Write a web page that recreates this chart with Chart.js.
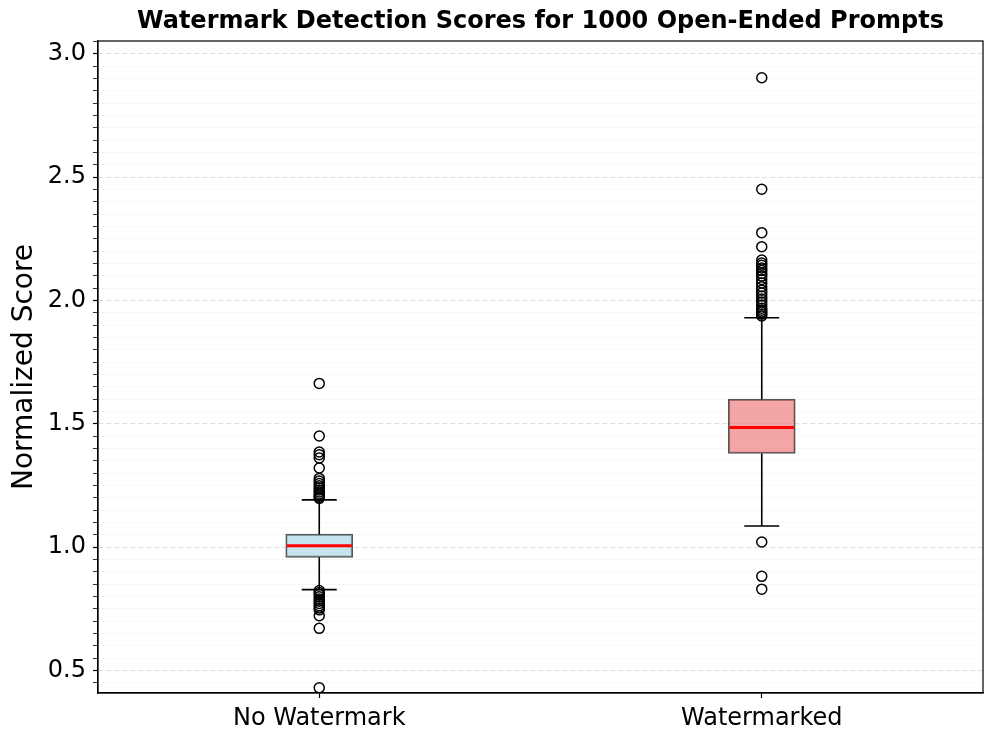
<!DOCTYPE html>
<html>
<head>
<meta charset="utf-8">
<script src="https://cdn.jsdelivr.net/npm/chart.js@4/dist/chart.umd.min.js"></script>
<style>
  html, body { margin: 0; padding: 0; background: #fff; }
  #wrap { width: 996px; height: 742px; }
</style>
</head>
<body>
<div id="wrap"><canvas id="chart"></canvas></div>
<script>
'use strict';

/* Data */
const categories = ['No Watermark', 'Watermarked'];
const q1 = [0.959, 1.380];
const q3 = [1.053, 1.600];
const medians = [1.006, 1.485];
const whiskerLow = [0.828, 1.086];
const whiskerHigh = [1.192, 1.930];

const noWatermarkOutliers = [
  1.664, 1.451, 1.386, 1.375, 1.362, 1.321, 1.279, 1.268, 1.258, 1.249,
  1.241, 1.232, 1.224, 1.216, 1.209, 1.203, 1.198,
  0.824, 0.816, 0.808, 0.799, 0.790, 0.781, 0.772, 0.763, 0.754, 0.746,
  0.722, 0.671, 0.430
];
const watermarkedOutliers = [
  2.903, 2.451, 2.275, 2.218, 2.164, 2.152, 2.143, 2.132, 2.122, 2.110,
  2.099, 2.085, 2.071, 2.056, 2.042, 2.030, 2.018, 2.006, 1.994, 1.982,
  1.969, 1.961, 1.953, 1.945, 1.937,
  1.021, 0.882, 0.830
];

const Y_MIN = 0.409;
const Y_MAX = 3.052;

/* Styling */
const FONT = "'DejaVu Sans', sans-serif";
const boxFills = ['rgba(173,216,230,0.7)', 'rgba(240,128,128,0.7)'];
const BOX_WIDTH = 67;
const CAP_HALF = 17.5;

function isMajor(v) {
  return Math.abs(v * 2 - Math.round(v * 2)) < 1e-6;
}

/* Whiskers, caps and medians drawn with the chart's scales */
const boxExtras = {
  id: 'boxExtras',
  afterDatasetDraw(chart, args) {
    if (args.meta.type !== 'bar') return;
    const { ctx, scales: { x, y } } = chart;
    ctx.save();
    categories.forEach((cat, i) => {
      const cx = x.getPixelForValue(i);
      ctx.strokeStyle = '#000';
      ctx.lineWidth = 1.6;
      ctx.beginPath();
      ctx.moveTo(cx, y.getPixelForValue(q3[i]));
      ctx.lineTo(cx, y.getPixelForValue(whiskerHigh[i]));
      ctx.moveTo(cx, y.getPixelForValue(q1[i]));
      ctx.lineTo(cx, y.getPixelForValue(whiskerLow[i]));
      ctx.moveTo(cx - CAP_HALF, y.getPixelForValue(whiskerHigh[i]));
      ctx.lineTo(cx + CAP_HALF, y.getPixelForValue(whiskerHigh[i]));
      ctx.moveTo(cx - CAP_HALF, y.getPixelForValue(whiskerLow[i]));
      ctx.lineTo(cx + CAP_HALF, y.getPixelForValue(whiskerLow[i]));
      ctx.stroke();

      ctx.strokeStyle = '#ff0000';
      ctx.lineWidth = 3;
      ctx.beginPath();
      ctx.moveTo(cx - BOX_WIDTH / 2 + 1, y.getPixelForValue(medians[i]));
      ctx.lineTo(cx + BOX_WIDTH / 2 - 1, y.getPixelForValue(medians[i]));
      ctx.stroke();
    });
    ctx.restore();
  },
  afterDraw(chart) {
    // frame round the plot area
    const { ctx, chartArea: a } = chart;
    ctx.save();
    ctx.strokeStyle = '#000';
    ctx.lineWidth = 1.2;
    ctx.strokeRect(a.left, a.top, a.right - a.left, a.bottom - a.top);
    ctx.restore();
  }
};

const outlierPoints = [
  ...noWatermarkOutliers.map(v => ({ x: categories[0], y: v })),
  ...watermarkedOutliers.map(v => ({ x: categories[1], y: v }))
];

new Chart(document.getElementById('chart'), {
  type: 'bar',
  data: {
    labels: categories,
    datasets: [
      {
        type: 'bar',
        order: 2,
        data: categories.map((c, i) => [q1[i], q3[i]]),
        backgroundColor: boxFills,
        borderColor: '#555555',
        borderWidth: 1.5,
        borderSkipped: false,
        barThickness: BOX_WIDTH
      },
      {
        type: 'line',
        order: 1,
        data: outlierPoints,
        showLine: false,
        pointStyle: 'circle',
        pointRadius: 5,
        pointBorderWidth: 1.5,
        pointBorderColor: '#000',
        pointBackgroundColor: 'rgba(0,0,0,0)'
      }
    ]
  },
  options: {
    responsive: true,
    maintainAspectRatio: false,
    animation: false,
    events: [],
    layout: { padding: { left: 0, right: 13, top: 0, bottom: 0 } },
    plugins: {
      legend: { display: false },
      tooltip: { enabled: false },
      title: {
        display: true,
        fullSize: false,
        text: 'Watermark Detection Scores for 1000 Open-Ended Prompts',
        color: '#000',
        font: { family: FONT, size: 24, weight: 'bold', lineHeight: 1.2 },
        padding: { top: 7, bottom: 5.2 }
      }
    },
    scales: {
      x: {
        type: 'category',
        offset: true,
        afterFit(scale) { scale.height = 49; },
        grid: {
          offset: false,
          drawOnChartArea: false,
          drawTicks: true,
          tickLength: 5,
          tickColor: '#000',
          tickWidth: 1.2
        },
        border: { display: true, color: '#000', width: 1.2 },
        ticks: {
          color: '#000',
          padding: 6,
          font: { family: FONT, size: 24 }
        }
      },
      y: {
        type: 'linear',
        min: Y_MIN,
        max: Y_MAX,
        afterFit(scale) { scale.width = 98; },
        title: {
          display: true,
          text: 'Normalized Score',
          color: '#000',
          font: { family: FONT, size: 28 },
          padding: { top: 8, bottom: 0 }
        },
        ticks: {
          stepSize: 0.05,
          includeBounds: false,
          autoSkip: false,
          color: '#000',
          padding: 7,
          font: { family: FONT, size: 24 },
          callback: v => (isMajor(v) ? v.toFixed(1) : '')
        },
        grid: {
          drawTicks: true,
          tickLength: 5,
          color: ctx => (ctx.tick && isMajor(ctx.tick.value) ? '#dedede' : '#ececec'),
          lineWidth: 1,
          tickColor: '#000',
          tickWidth: ctx => (ctx.tick && isMajor(ctx.tick.value) ? 1.2 : 0.8)
        },
        border: {
          display: true,
          color: '#000',
          width: 1.2,
          dash: ctx => (ctx.tick ? (isMajor(ctx.tick.value) ? [5, 3] : [1.5, 2.5]) : [])
        }
      }
    }
  },
  plugins: [boxExtras]
});
</script>
</body>
</html>
